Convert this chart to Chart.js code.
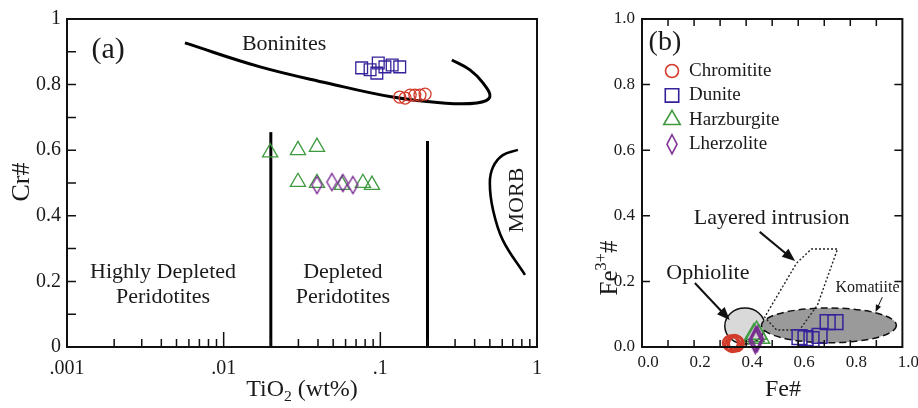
<!DOCTYPE html>
<html>
<head>
<meta charset="utf-8">
<script src="https://cdn.jsdelivr.net/npm/chart.js@4.4.1/dist/chart.umd.min.js"></script>
<style>
  html, body { margin: 0; padding: 0; background: #fff; }
  #wrap { position: relative; width: 918px; height: 408px; overflow: hidden; }
  #ca { position: absolute; left: 0; top: 0; }
  #cb { position: absolute; left: 560px; top: 0; }
</style>
</head>
<body>
<div id="wrap">
  <canvas id="ca" width="560" height="408"></canvas>
  <canvas id="cb" width="358" height="408"></canvas>
</div>
<script>
// panel (a): Cr# vs TiO2 (log)
const tiTickValues = [0.001, 0.01, 0.1, 1];
const tiTickLabels = ['.001', '.01', '.1', '1'];
const crTickValues = [0, 0.2, 0.4, 0.6, 0.8, 1];
const crTickLabels = ['0', '0.2', '0.4', '0.6', '0.8', '1'];

const chromTi = [0.133, 0.144, 0.155, 0.166, 0.179, 0.193];
const chromCr = [0.762, 0.759, 0.768, 0.768, 0.768, 0.771];
const duniteTi = [0.076, 0.086, 0.097, 0.095, 0.107, 0.119, 0.133];
const duniteCr = [0.851, 0.845, 0.866, 0.835, 0.854, 0.860, 0.854];
const harzTi = [0.0198, 0.0298, 0.0394, 0.0298, 0.0394, 0.0569, 0.0774, 0.0884];
const harzCr = [0.593, 0.600, 0.610, 0.503, 0.500, 0.494, 0.500, 0.494];
const lherzTi = [0.0394, 0.0491, 0.0577, 0.0668];
const lherzCr = [0.494, 0.503, 0.500, 0.494];

const boniniteTi = [0.00566, 0.0171, 0.0456, 0.120, 0.251, 0.413, 0.500, 0.452, 0.373, 0.286];
const boniniteCr = [0.927, 0.854, 0.805, 0.762, 0.744, 0.744, 0.762, 0.805, 0.845, 0.875];
const morbTi = [0.755, 0.605, 0.524, 0.500, 0.524, 0.605, 0.838];
const morbCr = [0.601, 0.585, 0.549, 0.500, 0.418, 0.326, 0.220];
const boundTi = [0.02, 0.2];
const boundTop = [0.655, 0.628];

// panel (b): Fe3+# vs Fe#
const feTickValues = [0, 0.2, 0.4, 0.6, 0.8, 1];
const feTickLabels = ['0.0', '0.2', '0.4', '0.6', '0.8', '1.0'];

const chromFe = [0.340, 0.348, 0.356, 0.362];
const chromFe3 = [0.012, 0.008, 0.014, 0.010];
const duniteFe = [0.605, 0.628, 0.651, 0.682, 0.713, 0.743];
const duniteFe3 = [0.030, 0.027, 0.024, 0.034, 0.076, 0.076];
const harzFe = [0.430, 0.440, 0.450];
const harzFe3 = [0.035, 0.042, 0.030];
const lherzFe = [0.435, 0.442];
const lherzFe3 = [0.020, 0.025];

const layeredFe = [0.594, 0.651, 0.751, 0.674, 0.605, 0.517, 0.471, 0.594];
const layeredFe3 = [0.256, 0.299, 0.299, 0.128, 0.052, 0.052, 0.091, 0.256];
const ophioliteCentre = [0.395, 0.064];
const ophioliteRadius = [0.077, 0.055];
const komatiiteCentre = [0.718, 0.066];
const komatiiteRadius = [0.259, 0.053];

const FONT = "'Liberation Serif', 'Times New Roman', Times, serif";
Chart.defaults.font.family = FONT;
Chart.defaults.color = '#1a1a1a';

const RED = '#d23a2a', BLUE = '#35229a', GREEN = '#3f9a3f', PURPLE = '#7a2b91';
const NONE = 'rgba(0,0,0,0)';

function pts(xs, ys) {
  return xs.map((x, i) => ({ x, y: ys[i] }));
}

function diamond(w, h, color, lw) {
  const c = document.createElement('canvas');
  c.width = Math.ceil(w + lw * 2);
  c.height = Math.ceil(h + lw * 2);
  const g = c.getContext('2d');
  const cx = c.width / 2, cy = c.height / 2;
  g.strokeStyle = color;
  g.lineWidth = lw;
  g.beginPath();
  g.moveTo(cx, cy - h / 2);
  g.lineTo(cx + w / 2, cy);
  g.lineTo(cx, cy + h / 2);
  g.lineTo(cx - w / 2, cy);
  g.closePath();
  g.stroke();
  return c;
}

function drawRuns(ctx, runs, x, y, size, angle, align) {
  ctx.save();
  ctx.translate(x, y);
  if (angle) ctx.rotate(angle);
  const parts = runs.map(r => {
    const s = (r.sub || r.sup) ? size * 0.65 : size;
    ctx.font = s + 'px ' + FONT;
    return { r, s, w: ctx.measureText(r.t).width };
  });
  const total = parts.reduce((a, p) => a + p.w, 0);
  let cx = align === 'left' ? 0 : -total / 2;
  ctx.textAlign = 'left';
  ctx.textBaseline = 'middle';
  ctx.fillStyle = '#1a1a1a';
  parts.forEach(p => {
    ctx.font = p.s + 'px ' + FONT;
    const dy = p.r.sub ? size * 0.3 : p.r.sup ? -size * 0.35 : 0;
    ctx.fillText(p.r.t, cx, dy);
    cx += p.w;
  });
  ctx.restore();
}

function arrow(ctx, x1, y1, x2, y2, head, lw) {
  const ang = Math.atan2(y2 - y1, x2 - x1);
  ctx.save();
  ctx.strokeStyle = '#111';
  ctx.fillStyle = '#111';
  ctx.lineWidth = lw;
  ctx.beginPath();
  ctx.moveTo(x1, y1);
  ctx.lineTo(x2 - Math.cos(ang) * head * 0.8, y2 - Math.sin(ang) * head * 0.8);
  ctx.stroke();
  ctx.beginPath();
  ctx.moveTo(x2, y2);
  ctx.lineTo(x2 - head * Math.cos(ang) + head * 0.4 * Math.sin(ang), y2 - head * Math.sin(ang) - head * 0.4 * Math.cos(ang));
  ctx.lineTo(x2 - head * Math.cos(ang) - head * 0.4 * Math.sin(ang), y2 - head * Math.sin(ang) + head * 0.4 * Math.cos(ang));
  ctx.closePath();
  ctx.fill();
  ctx.restore();
}

// frame, inward tick marks, shapes, arrows and labels
function decor(spec) {
  return {
    id: 'decor',
    beforeDatasetsDraw(chart) {
      if (spec.shapes) spec.shapes(chart);
    },
    afterDatasetsDraw(chart) {
      const { ctx, chartArea: a, scales } = chart;
      ctx.save();
      ctx.strokeStyle = '#111';
      ctx.lineWidth = 1.5;
      ctx.beginPath();
      spec.marks.forEach(m => {
        const sc = scales[m.axis];
        m.values.forEach(v => {
          const p = sc.getPixelForValue(v);
          const major = m.major && m.major.some(t => Math.abs(t - v) / t < 1e-6);
          const len = major ? m.majorLen : m.len;
          if (m.side === 'bottom') { ctx.moveTo(p, a.bottom); ctx.lineTo(p, a.bottom - len); }
          if (m.side === 'top') { ctx.moveTo(p, a.top); ctx.lineTo(p, a.top + len); }
          if (m.side === 'left') { ctx.moveTo(a.left, p); ctx.lineTo(a.left + len, p); }
          if (m.side === 'right') { ctx.moveTo(a.right, p); ctx.lineTo(a.right - len, p); }
        });
      });
      ctx.stroke();
      ctx.lineWidth = 2;
      ctx.strokeRect(a.left, a.top, a.right - a.left, a.bottom - a.top);
      ctx.restore();

      (spec.arrows || []).forEach(ar => {
        arrow(ctx,
          scales.x.getPixelForValue(ar.from[0]), scales.y.getPixelForValue(ar.from[1]),
          scales.x.getPixelForValue(ar.to[0]), scales.y.getPixelForValue(ar.to[1]),
          ar.head, ar.lw);
      });

      (spec.texts || []).forEach(t => {
        const x = t.px ? t.x : scales.x.getPixelForValue(t.x);
        const y = t.px ? t.y : scales.y.getPixelForValue(t.y);
        drawRuns(ctx, t.runs || [{ t: t.t }], x, y, t.size, t.angle || 0, t.align);
      });

      if (spec.legend) spec.legend(chart);
    }
  };
}

// ---------- panel (a) ----------
const tiMarks = [];
[0.001, 0.01, 0.1].forEach(d => {
  for (let k = 1; k <= 9; k++) if (!(d === 0.001 && k === 1)) tiMarks.push(k * d);
});
const crMarks = [0.1, 0.2, 0.3, 0.4, 0.5, 0.6, 0.7, 0.8, 0.9];

new Chart(document.getElementById('ca'), {
  type: 'scatter',
  data: {
    datasets: [
      { label: 'Chromitite', data: pts(chromTi, chromCr), pointStyle: 'circle', pointRadius: 6,
        borderColor: RED, backgroundColor: NONE, pointBorderWidth: 1.3, clip: false },
      { label: 'Dunite', data: pts(duniteTi, duniteCr), pointStyle: 'rect', pointRadius: 8.3,
        borderColor: BLUE, backgroundColor: NONE, pointBorderWidth: 1.3, clip: false },
      { label: 'Lherzolite', data: pts(lherzTi, lherzCr), pointStyle: diamond(10, 17, PURPLE, 1.4), pointRadius: 6,
        borderColor: PURPLE, backgroundColor: NONE, clip: false },
      { label: 'Harzburgite', data: pts(harzTi, harzCr), pointStyle: 'triangle', pointRadius: 8.8,
        borderColor: GREEN, backgroundColor: NONE, pointBorderWidth: 1.3, clip: false },
      { label: 'Boninites', data: pts(boniniteTi, boniniteCr), showLine: true, tension: 0.4,
        borderColor: '#000', borderWidth: 3, pointRadius: 0 },
      { label: 'MORB', data: pts(morbTi, morbCr), showLine: true, tension: 0.4,
        borderColor: '#000', borderWidth: 2.6, pointRadius: 0 },
      { label: 'bound1', data: [{ x: boundTi[0], y: 0 }, { x: boundTi[0], y: boundTop[0] }], showLine: true,
        borderColor: '#000', borderWidth: 3, pointRadius: 0 },
      { label: 'bound2', data: [{ x: boundTi[1], y: 0 }, { x: boundTi[1], y: boundTop[1] }], showLine: true,
        borderColor: '#000', borderWidth: 3, pointRadius: 0 }
    ]
  },
  options: {
    responsive: false,
    animation: false,
    events: [],
    layout: { padding: { top: 19, right: 23, left: 0, bottom: 0 } },
    plugins: { legend: { display: false }, tooltip: { enabled: false } },
    scales: {
      x: {
        type: 'logarithmic', min: 0.001, max: 1,
        grid: { display: false, drawTicks: false, tickLength: 0 },
        border: { display: false },
        afterBuildTicks: s => { s.ticks = tiTickValues.map(v => ({ value: v })); },
        afterFit: s => { s.height = 61; },
        ticks: { autoSkip: false, maxRotation: 0, padding: 10, font: { size: 20 },
          callback: (v, i) => tiTickLabels[i] }
      },
      y: {
        min: 0, max: 1,
        grid: { display: false, drawTicks: false, tickLength: 0 },
        border: { display: false },
        afterBuildTicks: s => { s.ticks = crTickValues.map(v => ({ value: v })); },
        afterFit: s => { s.width = 67; },
        ticks: { autoSkip: false, padding: 6, font: { size: 20 },
          callback: (v, i) => crTickLabels[i] }
      }
    }
  },
  plugins: [decor({
    marks: [
      { axis: 'x', side: 'bottom', values: tiMarks, len: 8, majorLen: 15, major: [0.01, 0.1] },
      { axis: 'y', side: 'left', values: crMarks, len: 9 }
    ],
    texts: [
      { t: '(a)', x: 0.00183, y: 0.905, size: 30 },
      { t: 'Boninites', x: 0.0243, y: 0.924, size: 22 },
      { t: 'Highly Depleted', x: 0.0041, y: 0.229, size: 22 },
      { t: 'Peridotites', x: 0.0041, y: 0.152, size: 22 },
      { t: 'Depleted', x: 0.0577, y: 0.229, size: 22 },
      { t: 'Peridotites', x: 0.0577, y: 0.152, size: 22 },
      { t: 'MORB', x: 0.745, y: 0.448, size: 22, angle: -Math.PI / 2 },
      { t: 'Cr#', px: true, x: 22, y: 182, size: 26, angle: -Math.PI / 2 },
      { runs: [{ t: 'TiO' }, { t: '2', sub: true }, { t: ' (wt%)' }], px: true, x: 302, y: 390, size: 24 }
    ]
  })]
});

// ---------- panel (b) ----------
const feMarks = [0.1, 0.2, 0.3, 0.4, 0.5, 0.6, 0.7, 0.8, 0.9];
const fe3Marks = [0.2, 0.4, 0.6, 0.8];

const legendItems = [
  { label: 'Chromitite', color: RED, style: 'circle', radius: 6.5 },
  { label: 'Dunite', color: BLUE, style: 'rect', radius: 9.5 },
  { label: 'Harzburgite', color: GREEN, style: 'triangle', radius: 9.5 },
  { label: 'Lherzolite', color: PURPLE, style: diamond(10, 19, PURPLE, 1.6), radius: 7 }
];

new Chart(document.getElementById('cb'), {
  type: 'scatter',
  data: {
    datasets: [
      { label: 'Chromitite', data: pts(chromFe, chromFe3), pointStyle: 'circle', pointRadius: 7.5,
        borderColor: RED, backgroundColor: NONE, pointBorderWidth: 2.5, clip: false },
      { label: 'Lherzolite', data: pts(lherzFe, lherzFe3), pointStyle: diamond(12, 24, PURPLE, 2.4), pointRadius: 8,
        borderColor: PURPLE, backgroundColor: NONE, clip: false },
      { label: 'Harzburgite', data: pts(harzFe, harzFe3), pointStyle: 'triangle', pointRadius: 12,
        borderColor: GREEN, backgroundColor: NONE, pointBorderWidth: 1.5, clip: false },
      { label: 'Dunite', data: pts(duniteFe, duniteFe3), pointStyle: 'rect', pointRadius: 10.5,
        borderColor: BLUE, backgroundColor: NONE, pointBorderWidth: 1.5, clip: false },
      { label: 'Layered intrusion', data: pts(layeredFe, layeredFe3), showLine: true, tension: 0,
        borderColor: '#222', borderWidth: 1.4, borderDash: [2, 2], pointRadius: 0 }
    ]
  },
  options: {
    responsive: false,
    animation: false,
    events: [],
    layout: { padding: { top: 19, right: 15, left: 0, bottom: 0 } },
    plugins: { legend: { display: false }, tooltip: { enabled: false } },
    scales: {
      x: {
        min: 0, max: 1,
        grid: { display: false, drawTicks: false, tickLength: 0 },
        border: { display: false },
        afterBuildTicks: s => { s.ticks = feTickValues.map(v => ({ value: v })); },
        afterFit: s => { s.height = 61; },
        ticks: { autoSkip: false, maxRotation: 0, padding: 5, labelOffset: 6, font: { size: 17 },
          callback: (v, i) => feTickLabels[i] }
      },
      y: {
        min: 0, max: 1,
        grid: { display: false, drawTicks: false, tickLength: 0 },
        border: { display: false },
        afterBuildTicks: s => { s.ticks = feTickValues.map(v => ({ value: v })); },
        afterFit: s => { s.width = 82; },
        ticks: { autoSkip: false, padding: 7, font: { size: 17 },
          callback: (v, i) => feTickLabels[i] }
      }
    }
  },
  plugins: [decor({
    shapes(chart) {
      const { ctx, scales: { x, y } } = chart;
      const ell = (c, r, fill, dash) => {
        const cx = x.getPixelForValue(c[0]), cy = y.getPixelForValue(c[1]);
        const rx = Math.abs(x.getPixelForValue(c[0] + r[0]) - cx);
        const ry = Math.abs(y.getPixelForValue(c[1] + r[1]) - cy);
        ctx.save();
        ctx.beginPath();
        ctx.ellipse(cx, cy, rx, ry, 0, 0, Math.PI * 2);
        ctx.fillStyle = fill;
        ctx.fill();
        ctx.strokeStyle = '#111';
        ctx.lineWidth = 1.5;
        if (dash) ctx.setLineDash(dash);
        ctx.stroke();
        ctx.restore();
      };
      ell(ophioliteCentre, ophioliteRadius, '#d9d9d9');
      ell(komatiiteCentre, komatiiteRadius, '#9a9a9a', [7, 4]);
    },
    marks: [
      { axis: 'x', side: 'bottom', values: feMarks, len: 7 },
      { axis: 'x', side: 'top', values: feMarks, len: 7 },
      { axis: 'y', side: 'left', values: fe3Marks, len: 8 },
      { axis: 'y', side: 'right', values: fe3Marks, len: 8 }
    ],
    arrows: [
      { from: [0.452, 0.351], to: [0.588, 0.262], head: 13, lw: 2 },
      { from: [0.203, 0.195], to: [0.337, 0.082], head: 13, lw: 2 },
      { from: [0.923, 0.152], to: [0.897, 0.107], head: 7, lw: 1 }
    ],
    texts: [
      { t: '(b)', x: 0.088, y: 0.927, size: 28 },
      { t: 'Layered intrusion', x: 0.498, y: 0.393, size: 22 },
      { t: 'Ophiolite', x: 0.253, y: 0.226, size: 22 },
      { t: 'Komatiite', x: 0.866, y: 0.180, size: 16 },
      { t: 'Fe#', px: true, x: 223, y: 390, size: 24 },
      { runs: [{ t: 'Fe' }, { t: '3+', sup: true }, { t: '#' }], px: true, x: 50, y: 268, size: 25, angle: -Math.PI / 2 }
    ],
    legend(chart) {
      const { ctx, chartArea: a } = chart;
      legendItems.forEach((it, i) => {
        const yy = a.top + 52 + i * 24.4;
        ctx.save();
        ctx.strokeStyle = it.color;
        ctx.fillStyle = NONE;
        ctx.lineWidth = 1.6;
        Chart.helpers.drawPoint(ctx, { pointStyle: it.style, radius: it.radius, rotation: 0, borderWidth: 1.6 }, a.left + 30, yy);
        ctx.restore();
        drawRuns(ctx, [{ t: it.label }], a.left + 47, yy, 19, 0, 'left');
      });
    }
  })]
});
</script>
</body>
</html>
